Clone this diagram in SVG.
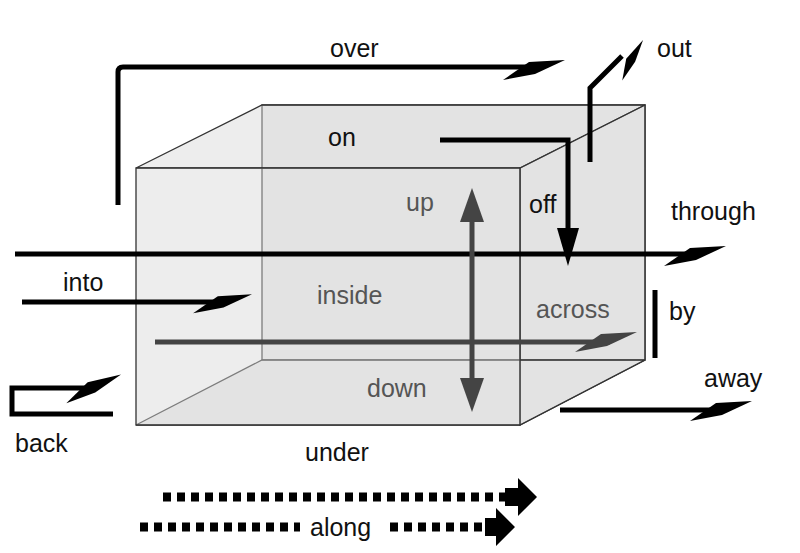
<svg xmlns="http://www.w3.org/2000/svg" width="800" height="553" viewBox="0 0 800 553">
<style>
text{font-family:"Liberation Sans",Arial,sans-serif;font-size:25px;fill:#111}
.g{fill:#555}
.face{fill:#d8d8d8;fill-opacity:0.45;stroke:#333;stroke-width:1.3}
.ln{fill:none;stroke:#000;stroke-width:5}
.gl{fill:none;stroke:#444;stroke-width:5}
.hd{fill:#000}
.dash{fill:none;stroke:#000;stroke-width:9;stroke-dasharray:8 6}
</style>
<defs>
<polygon id="harp" points="0,-6 -36,-4 -62,14 -30,8"/>
</defs>
<rect width="800" height="553" fill="#fff"/>
<g id="box">
<rect class="face" x="262" y="105" width="383" height="255"/>
<polygon class="face" points="136,168 262,105 645,105 520,168"/>
<polygon class="face" points="520,168 645,105 645,360 520,425"/>
<polygon class="face" points="136,425 262,360 645,360 520,425"/>
<rect class="face" x="136" y="168" width="384" height="257"/>
</g>
<g id="connectors">
<path class="ln" d="M118,205 V72 Q118,67 123,67 H540"/><use href="#harp" class="hd" transform="translate(565,66)"/>
<path class="ln" d="M590,162 V88 L622,56"/><use href="#harp" class="hd" transform="translate(646,43) rotate(-45) scale(0.7)"/>
<path class="ln" d="M440,140 H568 V235"/><polygon class="hd" points="557,228 579,228 568,266"/>
<path class="ln" d="M15,254 H700"/><use href="#harp" class="hd" transform="translate(726,252)"/>
<path class="ln" d="M22,302 H225"/><use href="#harp" class="hd" transform="translate(252,300) scale(0.95)"/>
<path class="gl" d="M155,342 H610"/><use href="#harp" fill="#444" transform="translate(637,338)"/>
<path class="ln" d="M560,410 H725"/><use href="#harp" class="hd" transform="translate(752,407)"/>
<path class="ln" d="M113,414 H12 V388 H95"/><use href="#harp" class="hd" transform="translate(122,380) rotate(-10) scale(0.95)"/>
<path class="ln" d="M655,290 V358"/>
<path class="gl" d="M472,215 V385"/><polygon fill="#444" points="472,188 460,222 484,222"/><polygon fill="#444" points="472,412 460,378 484,378"/>
<path class="dash" d="M163,497 H505"/><polygon class="hd" points="505,488 518,488 518,478 537,497 518,516 518,506 505,506"/>
<path class="dash" d="M140,527 H300 M390,527 H485"/><polygon class="hd" points="485,518 496,518 496,508 515,527 496,546 496,536 485,536"/>
</g>
<g id="labels">
<text x="330" y="57">over</text>
<text x="657" y="57">out</text>
<text x="328" y="146">on</text>
<text class="g" x="406" y="211">up</text>
<text x="529" y="213">off</text>
<text x="671" y="220">through</text>
<text x="63" y="291">into</text>
<text class="g" x="317" y="304">inside</text>
<text class="g" x="536" y="318">across</text>
<text x="669" y="320">by</text>
<text x="704" y="387">away</text>
<text class="g" x="367" y="397">down</text>
<text x="15" y="452">back</text>
<text x="305" y="461">under</text>
<text x="310" y="536">along</text>
</g>
</svg>
